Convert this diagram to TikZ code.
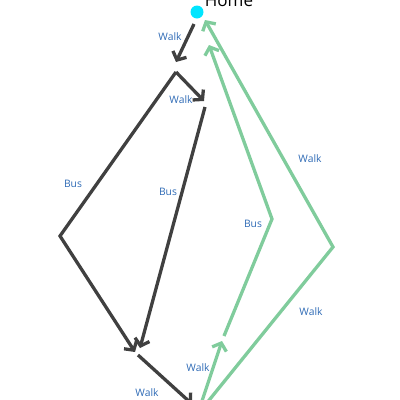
\documentclass[tikz,border=0pt]{standalone}
\usepackage{fontspec}
\setmainfont{Open Sans}
\usetikzlibrary{arrows.meta}
\definecolor{darkline}{HTML}{404040}
\definecolor{greenline}{HTML}{80CC9C}
\definecolor{labelblue}{HTML}{2E6AB5}
\definecolor{homecyan}{HTML}{00E5FF}
\tikzset{
  darkpath/.style={draw=darkline, line width=3.3pt},
  greenpath/.style={draw=greenline, line width=3.3pt},
  tipped/.style={-{Straight Barb[length=6.5pt,width=15pt]}},
  lbl/.style={text=labelblue, font=\fontsize{10.3}{12}\selectfont, inner sep=0pt},
}
\begin{document}
\begin{tikzpicture}[x=1pt,y=-1pt]
\useasboundingbox (0,0) rectangle (400,400);
\clip (0,0) rectangle (400,400);
% coordinates
\coordinate (d0) at (194,24);
\coordinate (d1) at (176,62);
\coordinate (d2s) at (176,72);
\coordinate (d2) at (204,101);
\coordinate (d3) at (205,107);
\coordinate (b1c) at (60,236);
\coordinate (d4) at (135,352);
\coordinate (d5) at (140,348);
\coordinate (d6) at (138,355);
\coordinate (d7) at (192,404);
\coordinate (g0) at (201,404);
\coordinate (g1) at (222,341);
\coordinate (g2) at (224,336);
\coordinate (g3) at (272,219);
\coordinate (g4) at (209,45);
\coordinate (g5) at (206,404);
\coordinate (g6) at (333,247);
\coordinate (g7) at (205,20);
% home
\node[circle, fill=homecyan, minimum size=13pt, inner sep=0pt] (home) at (197,12) {};
\node[anchor=base, font=\fontsize{17}{20}\selectfont, inner sep=0pt] (hometext) at (229,6) {Home};
% dark paths
\draw[darkpath, tipped] (d0) -- (d1);
\draw[darkpath, tipped] (d2s) -- (d2);
\draw[darkpath, tipped] (d2s) -- (b1c) -- (d4);
\draw[darkpath, tipped] (d3) -- (d5);
\draw[darkpath, tipped] (d6) -- (d7);
% green paths
\draw[greenpath, tipped] (g0) -- (g1);
\draw[greenpath, tipped] (g2) -- (g3) -- (g4);
\draw[greenpath, tipped] (g5) -- (g6) -- (g7);
% labels
\node[lbl] (l1) at (170,37) {Walk};
\node[lbl] (l2) at (181,100) {Walk};
\node[lbl] (l3) at (73,184) {Bus};
\node[lbl] (l4) at (168,192) {Bus};
\node[lbl] (l5) at (147,393) {Walk};
\node[lbl] (l6) at (198,368) {Walk};
\node[lbl] (l7) at (253,224) {Bus};
\node[lbl] (l8) at (310,159) {Walk};
\node[lbl] (l9) at (311,312) {Walk};
\end{tikzpicture}
\end{document}
